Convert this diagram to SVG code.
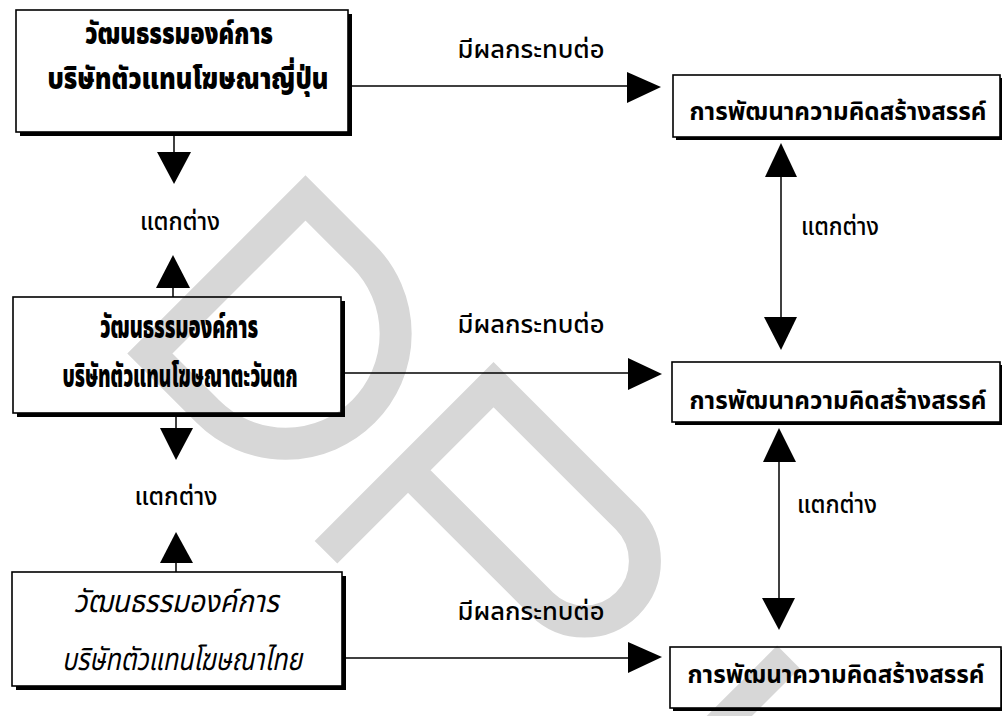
<svg xmlns="http://www.w3.org/2000/svg" width="1002" height="716" viewBox="0 0 1002 716">
<style>
.box{fill:none;stroke:#000;stroke-width:1.6}
.sh{fill:#000}
.wm{fill:none;stroke:#d7d7d7;stroke-width:32;stroke-linejoin:miter}
.t{font-family:"Noto Sans Thai","Noto Sans","DejaVu Sans",sans-serif;fill:#000;text-anchor:middle}
.h1{font-size:30px;font-weight:900}
.h2{font-size:31px;font-weight:900}
.it{font-size:31px;font-style:italic}
.r{font-size:24px;font-weight:700}
.lb{font-size:24px;font-weight:500}
.ln{stroke:#000;stroke-width:1.5;fill:none}
.ah{fill:#000}
</style>
<rect width="1002" height="716" fill="#fff"/>
<g id="watermark" transform="rotate(45)">
<path class="wm" d="M438,144 L356,144 L356,-76 L438,-76 A110,110 0 0 1 438,144 Z"/>
<path class="wm" d="M621,160 L621,-77 L810,-77 A60.5,60.5 0 0 1 810,44 L621,44"/>
<path class="wm" d="M1022,-93 L1022,200"/>
</g>
<g id="left1">
<path class="sh" d="M348,14 H352 V136 H20 V132 H348 Z"/>
<rect class="box" x="16" y="10" width="332" height="122"/>
<text class="t h1" x="179" y="44" textLength="188" lengthAdjust="spacingAndGlyphs">วัฒนธรรมองค์การ</text>
<text class="t h1" x="188" y="89" textLength="281" lengthAdjust="spacingAndGlyphs">บริษัทตัวแทนโฆษณาญี่ปุ่น</text>
</g>
<g id="left2">
<path class="sh" d="M341,301 H345 V417 H17 V413 H341 Z"/>
<rect class="box" x="13" y="297" width="328" height="116"/>
<text class="t h2" x="179" y="338" textLength="158" lengthAdjust="spacingAndGlyphs">วัฒนธรรมองค์การ</text>
<text class="t h2" x="180" y="387" textLength="235" lengthAdjust="spacingAndGlyphs">บริษัทตัวแทนโฆษณาตะวันตก</text>
</g>
<g id="left3">
<path class="sh" d="M342,576 H346 V690 H16 V686 H342 Z"/>
<rect class="box" x="12" y="572" width="330" height="114"/>
<text class="t it" x="176" y="612" textLength="205" lengthAdjust="spacingAndGlyphs">วัฒนธรรมองค์การ</text>
<text class="t it" x="182" y="670" textLength="240" lengthAdjust="spacingAndGlyphs">บริษัทตัวแทนโฆษณาไทย</text>
</g>
<g id="right1">
<path class="sh" d="M1000,78 H1003 V140 H676 V137 H1000 Z"/>
<rect class="box" x="673" y="75" width="327" height="62"/>
<text class="t r" x="838" y="120" textLength="297" lengthAdjust="spacingAndGlyphs">การพัฒนาความคิดสร้างสรรค์</text>
</g>
<g id="right2">
<path class="sh" d="M1000,365 H1003 V425 H675 V422 H1000 Z"/>
<rect class="box" x="672" y="362" width="328" height="60"/>
<text class="t r" x="838" y="409" textLength="297" lengthAdjust="spacingAndGlyphs">การพัฒนาความคิดสร้างสรรค์</text>
</g>
<g id="right3">
<path class="sh" d="M1001,650 H1004 V711 H673 V708 H1001 Z"/>
<rect class="box" x="670" y="647" width="331" height="61"/>
<text class="t r" x="836" y="683" textLength="297" lengthAdjust="spacingAndGlyphs">การพัฒนาความคิดสร้างสรรค์</text>
</g>
<g id="connectors">
<line class="ln" x1="348" y1="86" x2="630" y2="86"/>
<polygon class="ah" points="627,72 661,87 627,103"/>
<line class="ln" x1="341" y1="373" x2="630" y2="373"/>
<polygon class="ah" points="628,358 662,374 628,390"/>
<line class="ln" x1="342" y1="658" x2="630" y2="658"/>
<polygon class="ah" points="628,642 662,657 628,673"/>
<line class="ln" x1="174" y1="132" x2="174" y2="153"/>
<polygon class="ah" points="157,152 191,152 174,184"/>
<line class="ln" x1="173" y1="287" x2="173" y2="297"/>
<polygon class="ah" points="156,288 190,288 173,255"/>
<line class="ln" x1="176" y1="413" x2="176" y2="429"/>
<polygon class="ah" points="160,428 193,428 176,460"/>
<line class="ln" x1="176" y1="562" x2="176" y2="572"/>
<polygon class="ah" points="160,563 193,563 176,532"/>
<line class="ln" x1="781" y1="176" x2="781" y2="318"/>
<polygon class="ah" points="765,177 797,177 781,143"/>
<polygon class="ah" points="764,317 797,317 781,350"/>
<line class="ln" x1="779" y1="461" x2="779" y2="599"/>
<polygon class="ah" points="763,462 796,462 779,428"/>
<polygon class="ah" points="762,598 795,598 779,630"/>
<text class="t lb" x="531" y="58" textLength="147" lengthAdjust="spacingAndGlyphs">มีผลกระทบต่อ</text>
<text class="t lb" x="531" y="333" textLength="147" lengthAdjust="spacingAndGlyphs">มีผลกระทบต่อ</text>
<text class="t lb" x="531" y="620" textLength="147" lengthAdjust="spacingAndGlyphs">มีผลกระทบต่อ</text>
<text class="t lb" x="180" y="230" textLength="80" lengthAdjust="spacingAndGlyphs">แตกต่าง</text>
<text class="t lb" x="176" y="505" textLength="83" lengthAdjust="spacingAndGlyphs">แตกต่าง</text>
<text class="t lb" x="840" y="235" textLength="78" lengthAdjust="spacingAndGlyphs">แตกต่าง</text>
<text class="t lb" x="837" y="513" textLength="80" lengthAdjust="spacingAndGlyphs">แตกต่าง</text>
</g>
</svg>
